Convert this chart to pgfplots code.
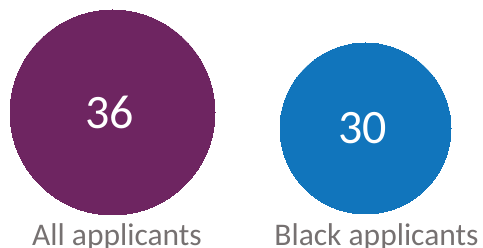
\documentclass[border=0pt]{standalone}
\usepackage{pgfplots}
\pgfplotsset{compat=1.18}
\usepackage{fontspec}
\setmainfont{Carlito}
\definecolor{cpurple}{RGB}{110,37,97}
\definecolor{cblue}{RGB}{17,117,188}
\definecolor{cgray}{RGB}{118,113,113}
\begin{document}
\begin{tikzpicture}
\begin{axis}[
  name=ax,
  width=483bp, height=248bp, scale only axis,
  xmin=0, xmax=483, ymin=0, ymax=248,
  hide axis, clip=false,
  point meta=explicit symbolic,
  nodes near coords={\pgfplotspointmeta},
  every node near coord/.append style={anchor=center, text=white, font=\fontsize{48bp}{50bp}\selectfont, inner sep=0pt},
]
\addplot[only marks, mark=*, mark size=102.5bp, mark options={fill=cpurple, draw=cpurple, line width=0pt},
  every node near coord/.append style={xshift=-3bp}]
  coordinates {(112.5,135.5) [36]};
\addplot[only marks, mark=*, mark size=85.5bp, mark options={fill=cblue, draw=cblue, line width=0pt},
  every node near coord/.append style={xshift=-3bp}]
  coordinates {(365.5,119.5) [30]};
\node[anchor=base, text=cgray, font=\fontsize{31.5bp}{33bp}\selectfont, inner sep=0pt] at (axis cs:117,3) {All applicants};
\node[anchor=base, text=cgray, font=\fontsize{31.5bp}{33bp}\selectfont, inner sep=0pt] at (axis cs:376.5,3) {Black applicants};
\end{axis}
\pgfresetboundingbox
\path[use as bounding box] (ax.south west) rectangle (ax.north east);
\end{tikzpicture}
\end{document}
